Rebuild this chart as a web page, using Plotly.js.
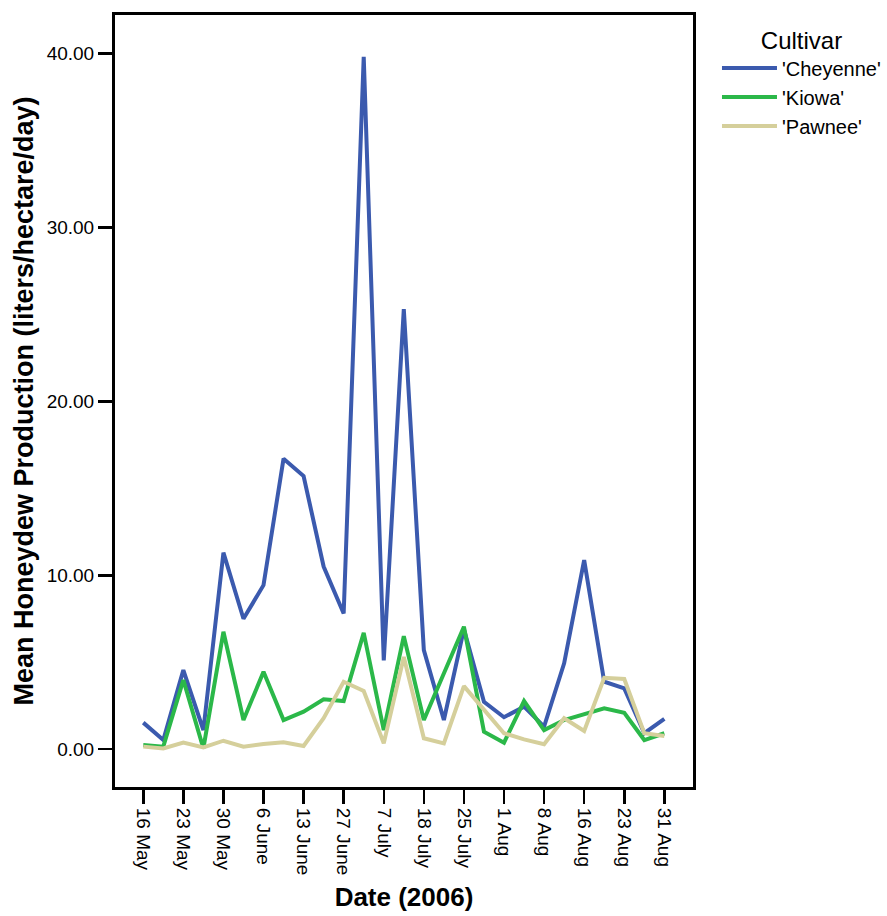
<!DOCTYPE html>
<html>
<head>
<meta charset="utf-8">
<script src="https://cdn.plot.ly/plotly-3.0.1.min.js"></script>
<style>html,body{margin:0;padding:0;background:#fff;}#chart{width:887px;height:916px;}</style>
</head>
<body>
<div id="chart"></div>
<script>
// Sampling index (27 samples); every other sample has a date tick label
const sampleIndex = [0,1,2,3,4,5,6,7,8,9,10,11,12,13,14,15,16,17,18,19,20,21,22,23,24,25,26];
const tickIndex = [0,2,4,6,8,10,12,14,16,18,20,22,24,26];
const tickLabels = ['16 May','23 May','30 May','6 June','13 June','27 June','7 July','18 July','25 July','1 Aug','8 Aug','16 Aug','23 Aug','31 Aug'];

const cheyenne = [1.53,0.53,4.55,1.1,11.3,7.5,9.43,16.7,15.7,10.5,7.8,39.8,5.1,25.3,5.7,1.68,6.9,2.73,1.84,2.45,1.3,4.94,10.87,3.88,3.5,0.92,1.74];
const kiowa    = [0.25,0.15,3.98,0.05,6.75,1.68,4.45,1.68,2.16,2.87,2.77,6.69,1.1,6.5,1.68,4.3,7.04,1.01,0.38,2.77,1.1,1.68,2.0,2.35,2.1,0.53,0.92];
const pawnee   = [0.15,0.05,0.38,0.11,0.49,0.15,0.3,0.4,0.19,1.78,3.88,3.35,0.34,5.3,0.63,0.34,3.63,2.26,0.92,0.57,0.29,1.78,1.05,4.11,4.04,0.92,0.76];

const seriesNames = ["'Cheyenne'", "'Kiowa'", "'Pawnee'"];
const seriesColors = ['#3b5aae', '#2bb849', '#d5cf9b'];
const seriesData = [cheyenne, kiowa, pawnee];

const traces = seriesData.map((d, i) => ({
  x: sampleIndex,
  y: d,
  type: 'scatter',
  mode: 'lines',
  name: seriesNames[i],
  line: {color: seriesColors[i], width: 4}
}));

const font = 'Liberation Sans, Arial, Helvetica, sans-serif';

const layout = {
  width: 887,
  height: 916,
  margin: {l: 115, r: 194, t: 15, b: 129, pad: 0, autoexpand: false},
  paper_bgcolor: '#ffffff',
  plot_bgcolor: '#ffffff',
  font: {family: font, color: '#000000', size: 19},
  showlegend: true,
  legend: {
    x: 1.0415, y: 0.997, xanchor: 'left', yanchor: 'top',
    font: {family: font, size: 20, color: '#000'},
    title: {text: 'Cultivar', side: 'top center', font: {family: font, size: 24, color: '#000'}},
    tracegroupgap: 0,
    itemwidth: 55,
    bgcolor: 'rgba(0,0,0,0)'
  },
  xaxis: {
    range: [-1.41, 27.43],
    tickmode: 'array',
    tickvals: tickIndex,
    ticktext: tickLabels,
    tickangle: 90,
    ticks: 'outside',
    ticklen: 14,
    tickwidth: 2.5,
    tickcolor: '#000',
    showline: true,
    linewidth: 3,
    linecolor: '#000',
    mirror: true,
    showgrid: false,
    zeroline: false,
    automargin: false,
    tickfont: {family: font, size: 19, color: '#000'},
    title: {text: '<b>Date (2006)</b>', font: {family: font, size: 26, color: '#000'}, standoff: 14}
  },
  yaxis: {
    range: [-2.17, 42.2],
    tickvals: [0, 10, 20, 30, 40],
    tickformat: '.2f',
    ticks: 'outside',
    ticklen: 14,
    tickwidth: 2.5,
    tickcolor: '#000',
    showline: true,
    linewidth: 3,
    linecolor: '#000',
    mirror: true,
    showgrid: false,
    zeroline: false,
    automargin: false,
    tickfont: {family: font, size: 19, color: '#000'},
    title: {text: '<b>Mean Honeydew Production (liters/hectare/day)</b>', font: {family: font, size: 27, color: '#000'}, standoff: 6}
  }
};

Plotly.newPlot('chart', traces, layout, {staticPlot: true, displayModeBar: false});
</script>
</body>
</html>
